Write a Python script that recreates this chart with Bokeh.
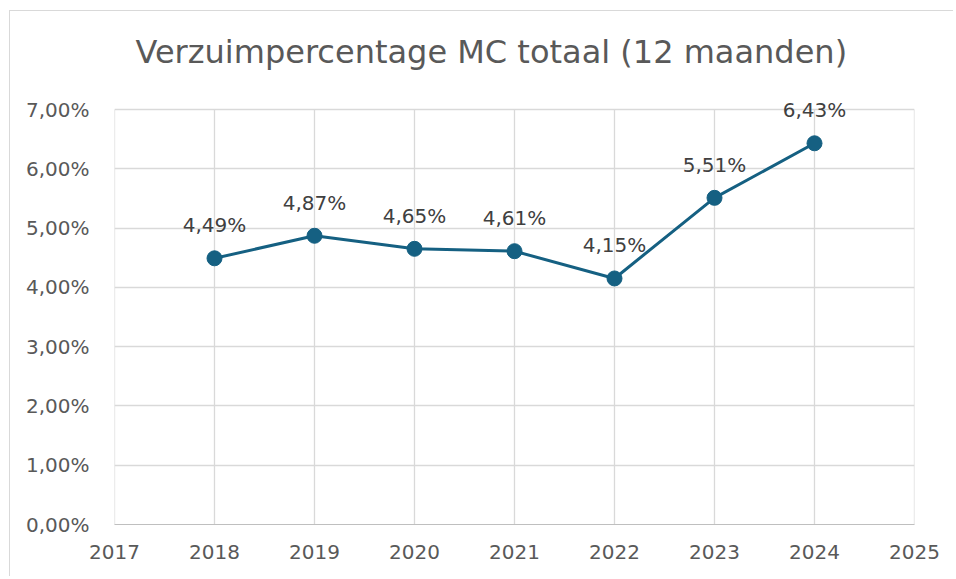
from bokeh.plotting import figure
from bokeh.models import ColumnDataSource, Range1d, FixedTicker, CustomJSTickFormatter
from bokeh.core.properties import value
from bokeh.embed import file_html
from bokeh.resources import INLINE

# Data
years = [2018, 2019, 2020, 2021, 2022, 2023, 2024]
verzuim = [4.49, 4.87, 4.65, 4.61, 4.15, 5.51, 6.43]
x_ticks = [2017, 2018, 2019, 2020, 2021, 2022, 2023, 2024, 2025]
y_ticks = [0, 1, 2, 3, 4, 5, 6, 7]
title_text = "Verzuimpercentage MC totaal (12 maanden)"

labels = [f"{v:.2f}".replace(".", ",") + "%" for v in verzuim]
src = ColumnDataSource(data=dict(x=years, y=verzuim, lbl=labels))
grid_src = ColumnDataSource(data=dict(x=x_ticks, y0=[y_ticks[0]] * len(x_ticks),
                                      y1=[y_ticks[-1]] * len(x_ticks)))

FONT = "DejaVu Sans"
LINE = "#156082"
GRID = "#D9D9D9"

# plot area: 415 px for 0..7 %, plus 30 px headroom above 7 % for the labels
y_top = y_ticks[-1] + 30 * y_ticks[-1] / 415

p = figure(width=944, height=566, output_backend="svg", toolbar_location=None,
           x_range=Range1d(2017, 2025), y_range=Range1d(0, y_top),
           min_border_left=104, min_border_right=40, min_border_top=68, min_border_bottom=53,
           background_fill_color="white", border_fill_color="white",
           styles={"border-left": "1px solid #D9D9D9", "border-top": "1px solid #D9D9D9",
                   "margin-left": "9px", "margin-top": "10px"})
p.outline_line_color = None

p.title.text = title_text
p.title.align = "left"
p.title.text_font = FONT
p.title.text_font_size = "32px"
p.title.text_font_style = "normal"
p.title.text_color = "#595959"
p.title.padding = 4
p.title.standoff = 10
p.title.offset = 17

# x axis
xa = p.xaxis[0]
xa.ticker = FixedTicker(ticks=x_ticks)
xa.major_tick_line_color = None
xa.minor_tick_line_color = None
xa.axis_line_color = "#BFBFBF"
xa.axis_line_width = 1
xa.major_label_text_font = FONT
xa.major_label_text_font_size = "20px"
xa.major_label_text_color = "#595959"
xa.major_label_standoff = 14

# y axis
ya = p.yaxis[0]
ya.ticker = FixedTicker(ticks=y_ticks)
ya.formatter = CustomJSTickFormatter(code="return tick.toFixed(2).replace('.', ',') + '%';")
ya.major_tick_line_color = None
ya.minor_tick_line_color = None
ya.axis_line_color = None
ya.major_label_text_font = FONT
ya.major_label_text_font_size = "20px"
ya.major_label_text_color = "#595959"
ya.major_label_standoff = 19

p.xgrid.visible = False
p.ygrid.ticker = FixedTicker(ticks=y_ticks)
p.ygrid.grid_line_color = GRID
p.ygrid.grid_line_width = 1.3

# vertical gridlines only between 0 % and 7 %
p.segment(x0="x", y0="y0", x1="x", y1="y1", source=grid_src, line_color=GRID, line_width=1.3)

p.line("x", "y", source=src, line_color=LINE, line_width=3)
p.scatter("x", "y", source=src, size=15, fill_color=LINE, line_color=LINE)
p.text("x", "y", text="lbl", source=src, text_font=value(FONT), text_font_size="20px",
       text_color="#404040", text_align="center", text_baseline="alphabetic", y_offset=-33)

open("out.html", "w").write(file_html(p, INLINE))
